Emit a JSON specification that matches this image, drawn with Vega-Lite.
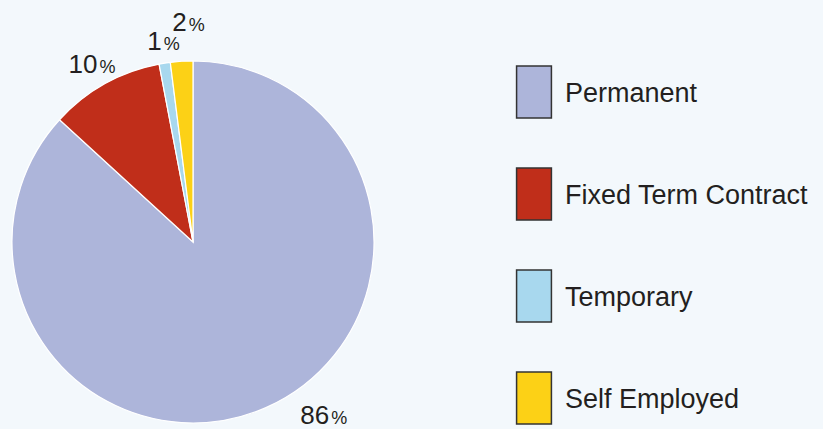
{
  "$schema": "https://vega.github.io/schema/vega-lite/v6.json",
  "width": 386,
  "height": 362,
  "autosize": {"type": "none"},
  "padding": {"left": 0, "top": 61, "right": 437, "bottom": 6},
  "background": "#f3f8fc",
  "config": {"view": {"stroke": null}, "font": "Liberation Sans"},
  "data": {
    "values": [
      {"category": "Permanent", "value": 86.8, "rank": 1, "label": "86"},
      {"category": "Fixed Term Contract", "value": 10.2, "rank": 2, "label": "10"},
      {"category": "Temporary", "value": 1.0, "rank": 3, "label": "1"},
      {"category": "Self Employed", "value": 2.0, "rank": 4, "label": "2"}
    ]
  },
  "encoding": {
    "theta": {"field": "value", "type": "quantitative", "stack": true},
    "order": {"field": "rank", "type": "quantitative"}
  },
  "layer": [
    {
      "mark": {"type": "arc", "outerRadius": 181, "stroke": "#ffffff", "strokeWidth": 1.2},
      "encoding": {
        "color": {
          "field": "category",
          "type": "nominal",
          "sort": ["Permanent", "Fixed Term Contract", "Temporary", "Self Employed"],
          "scale": {
            "domain": ["Permanent", "Fixed Term Contract", "Temporary", "Self Employed"],
            "range": ["#adb5da", "#c02e1a", "#a8d8ee", "#fcd116"]
          },
          "legend": {
            "title": null,
            "orient": "none",
            "legendX": 507,
            "legendY": 4,
            "padding": 0,
            "symbolType": "M-0.67,-1H0.67V1H-0.67Z",
            "symbolSize": 2704,
            "symbolStrokeColor": "#333333",
            "symbolStrokeWidth": 1.5,
            "symbolOpacity": 1,
            "labelFontSize": 27,
            "labelColor": "#231f20",
            "labelFont": "Liberation Sans",
            "labelOffset": 4,
            "labelLimit": 400,
            "rowPadding": 44,
            "encode": {
              "symbols": {"update": {"stroke": {"value": "#333333"}, "strokeWidth": {"value": 1.5}}},
              "labels": {"update": {"dy": {"value": 2}}}
            }
          }
        }
      }
    },
    {
      "mark": {"type": "text", "radius": 194, "align": "right", "baseline": "alphabetic", "fontSize": 26, "fill": "#231f20", "dx": -1},
      "encoding": {
        "text": {"field": "label"},
        "opacity": {"condition": {"test": "datum.category === 'Fixed Term Contract' || datum.category === 'Temporary'", "value": 1}, "value": 0}
      }
    },
    {
      "mark": {"type": "text", "radius": 194, "align": "left", "baseline": "alphabetic", "fontSize": 18, "fill": "#231f20", "dx": 1, "text": "%"},
      "encoding": {
        "opacity": {"condition": {"test": "datum.category === 'Fixed Term Contract' || datum.category === 'Temporary'", "value": 1}, "value": 0}
      }
    },
    {
      "mark": {"type": "text", "radius": 211, "align": "right", "baseline": "alphabetic", "fontSize": 26, "fill": "#231f20", "dx": 7},
      "encoding": {
        "text": {"field": "label"},
        "opacity": {"condition": {"test": "datum.category === 'Self Employed'", "value": 1}, "value": 0}
      }
    },
    {
      "mark": {"type": "text", "radius": 211, "align": "left", "baseline": "alphabetic", "fontSize": 18, "fill": "#231f20", "dx": 9, "text": "%"},
      "encoding": {
        "opacity": {"condition": {"test": "datum.category === 'Self Employed'", "value": 1}, "value": 0}
      }
    },
    {
      "mark": {"type": "text", "radius": 194, "align": "right", "baseline": "alphabetic", "fontSize": 26, "fill": "#231f20", "dx": 58, "dy": 4},
      "encoding": {
        "text": {"field": "label"},
        "opacity": {"condition": {"test": "datum.category === 'Permanent'", "value": 1}, "value": 0}
      }
    },
    {
      "mark": {"type": "text", "radius": 194, "align": "left", "baseline": "alphabetic", "fontSize": 18, "fill": "#231f20", "dx": 60, "dy": 4, "text": "%"},
      "encoding": {
        "opacity": {"condition": {"test": "datum.category === 'Permanent'", "value": 1}, "value": 0}
      }
    }
  ]
}
